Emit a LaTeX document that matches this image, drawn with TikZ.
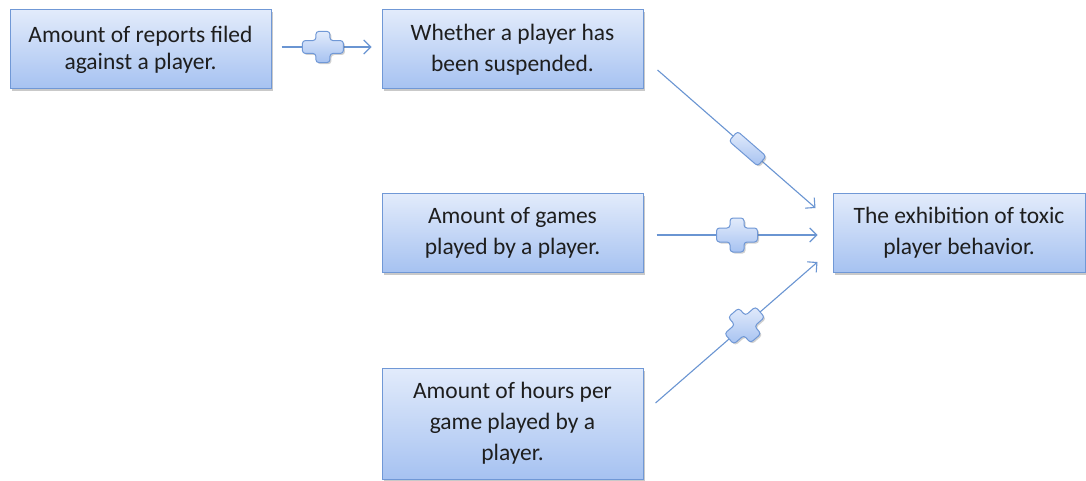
\documentclass[tikz,border=0pt]{standalone}
\usepackage{fontspec}
\setmainfont{Carlito}
\usetikzlibrary{arrows.meta,shadows,calc}
\definecolor{bord}{HTML}{7098D6}
\definecolor{topc}{HTML}{E2EBFB}
\definecolor{botc}{HTML}{A6C2F1}
\definecolor{linec}{HTML}{6A95D2}
\definecolor{txt}{HTML}{1E1E1E}
\tikzset{
  box/.style={draw=bord, line width=1pt, top color=topc, bottom color=botc,
    minimum width=261pt, minimum height=79pt, align=center, text=txt,
    font=\fontsize{23.5}{31}\selectfont, inner sep=0pt,
    drop shadow={shadow xshift=2pt, shadow yshift=-2.5pt, opacity=0.35, fill=black!60}},
  conn/.style={draw=linec, line width=1.1pt, -{Straight Barb[length=7pt,width=14pt,line width=1.1pt]}},
  markshape/.style={draw=bord, line width=1pt, top color=topc, bottom color=botc, rounded corners=3pt,
    drop shadow={shadow xshift=1.5pt, shadow yshift=-1.5pt, opacity=0.3, fill=black!60}},
  plusmark/.pic={\path[markshape] (-20.5,-7) -- (-7,-7) -- (-7,-17) -- (7,-17) -- (7,-7) -- (20.5,-7) -- (20.5,7) -- (7,7) -- (7,17) -- (-7,17) -- (-7,7) -- (-20.5,7) -- cycle;},
  minusmark/.pic={\path[markshape] (-19,-6.5) rectangle (19,6.5);},
}
\begin{document}
\begin{tikzpicture}[x=1pt,y=-1pt]
\useasboundingbox[fill=white] (0,0) rectangle (1086,481);
\node[box, font=\fontsize{23.5}{27}\selectfont] (A) at (140.5,49.5) {Amount of reports filed\\against a player.};
\node[box] (B) at (512.5,49.5) {Whether a player has\\been suspended.};
\node[box] (C) at (512.5,233) {Amount of games\\played by a player.};
\node[box, minimum height=111pt] (D) at (512.5,423.5) {Amount of hours per\\game played by a\\player.};
\node[box, minimum width=252pt, minimum height=78pt] (E) at (959,233) {The exhibition of toxic\\player behavior.};

\coordinate (a1) at ($(A.east)+(10,-2.5)$);
\coordinate (b0) at ($(B.west)+(-10,-2.5)$);
\coordinate (b1) at ($(B.east)+(14,20.5)$);
\coordinate (e1) at ($(E.west)+(-17,-25)$);
\coordinate (c1) at ($(C.east)+(13,2)$);
\coordinate (e2) at ($(E.west)+(-15,2)$);
\coordinate (d1) at ($(D.east)+(12,-20.5)$);
\coordinate (e3) at ($(E.west)+(-15,29)$);

\draw[conn] (a1) -- (b0);
\draw[conn] (b1) -- (e1);
\draw[conn] (c1) -- (e2);
\draw[conn] (d1) -- (e3);

\coordinate (m1) at ($(a1)!0.46!(b0)$);
\coordinate (m2) at ($(b1)!0.57!(e1)$);
\coordinate (m3) at ($(c1)!0.5!(e2)$);
\coordinate (m4) at ($(d1)!0.55!(e3)$);
\pic[shift={(m1)}, yscale=0.92] {plusmark};
\pic[shift={(m2)}, rotate=-41] {minusmark};
\pic[shift={(m3)}] {plusmark};
\pic[shift={(m4)}, rotate=41] {plusmark};
\end{tikzpicture}
\end{document}
